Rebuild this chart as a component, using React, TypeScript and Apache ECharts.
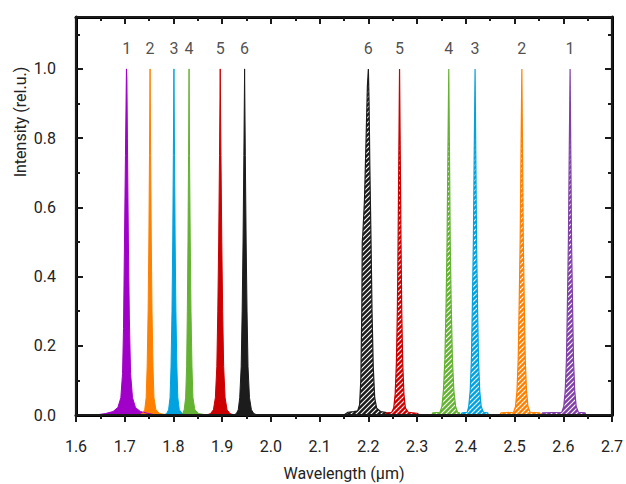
import React, { useEffect, useRef } from "react";
import * as echarts from "echarts";

// Peak labels
const peakLabelX = [1.704, 1.752, 1.801, 1.832, 1.896, 1.946, 2.2, 2.264, 2.365, 2.419, 2.515, 2.614];
const peakLabelText = ["1", "2", "3", "4", "5", "6", "6", "5", "4", "3", "2", "1"];
const peakLabelY = 1.058;

// Axis ranges and ticks
const xRange = [1.6, 2.7];
const yRange = [0, 1.15];
const xTicks = [1.6, 1.7, 1.8, 1.9, 2.0, 2.1, 2.2, 2.3, 2.4, 2.5, 2.6, 2.7];
const yTicks = [0.0, 0.2, 0.4, 0.6, 0.8, 1.0];

// Solid (left) peaks: [wavelength, intensity]
const left1 = [[1.640,0],[1.660,0.004],[1.676,0.01],[1.686,0.022],[1.692,0.05],[1.6955,0.12],[1.6975,0.25],[1.6995,0.5],[1.7015,0.75],[1.7035,1.0],[1.7045,0.97],[1.7055,0.8],[1.7075,0.5],[1.7095,0.28],[1.712,0.12],[1.716,0.05],[1.722,0.022],[1.732,0.01],[1.750,0.004],[1.765,0]];
const left2 = [[1.728,0],[1.736,0.004],[1.741,0.015],[1.744,0.05],[1.746,0.14],[1.748,0.3],[1.7495,0.5],[1.7508,0.75],[1.752,1.0],[1.7532,0.75],[1.7545,0.5],[1.756,0.3],[1.758,0.14],[1.760,0.05],[1.764,0.015],[1.772,0.004],[1.790,0]];
const left3 = [[1.780,0],[1.786,0.004],[1.790,0.015],[1.793,0.05],[1.795,0.14],[1.797,0.3],[1.7985,0.5],[1.7998,0.75],[1.801,1.0],[1.8022,0.75],[1.8035,0.5],[1.805,0.3],[1.807,0.14],[1.809,0.05],[1.812,0.015],[1.818,0.004],[1.826,0]];
const left4 = [[1.815,0],[1.819,0.004],[1.822,0.015],[1.825,0.05],[1.827,0.14],[1.8285,0.3],[1.8298,0.5],[1.831,0.75],[1.832,1.0],[1.833,0.75],[1.8345,0.5],[1.836,0.3],[1.838,0.14],[1.840,0.05],[1.844,0.015],[1.852,0.004],[1.870,0]];
const left5 = [[1.868,0],[1.876,0.004],[1.882,0.015],[1.886,0.05],[1.889,0.14],[1.891,0.3],[1.8928,0.5],[1.8945,0.75],[1.896,1.0],[1.8975,0.75],[1.8992,0.5],[1.901,0.3],[1.903,0.14],[1.906,0.05],[1.910,0.015],[1.916,0.004],[1.925,0]];
const left6 = [[1.924,0],[1.929,0.004],[1.933,0.015],[1.936,0.05],[1.939,0.14],[1.941,0.3],[1.9428,0.5],[1.9445,0.75],[1.946,1.0],[1.9475,0.75],[1.9492,0.5],[1.951,0.3],[1.953,0.14],[1.956,0.05],[1.960,0.015],[1.965,0.004],[1.972,0]];

// Hatched (right) peaks
const right6 = [[2.150,0],[2.158,0.008],[2.170,0.01],[2.178,0.012],[2.182,0.03],[2.1845,0.1],[2.1865,0.3],[2.1875,0.5],[2.1885,0.52],[2.192,0.62],[2.195,0.78],[2.198,0.95],[2.200,1.0],[2.2015,0.9],[2.203,0.72],[2.2055,0.5],[2.2075,0.3],[2.210,0.14],[2.213,0.05],[2.217,0.02],[2.225,0.01],[2.235,0.008],[2.245,0]];
const right5 = [[2.235,0],[2.238,0.006],[2.248,0.008],[2.252,0.02],[2.255,0.06],[2.2575,0.15],[2.2595,0.3],[2.261,0.5],[2.2625,0.75],[2.264,1.0],[2.2655,0.75],[2.267,0.5],[2.2685,0.3],[2.2705,0.15],[2.273,0.06],[2.276,0.02],[2.282,0.008],[2.300,0.005],[2.305,0]];
const right4 = [[2.330,0],[2.332,0.006],[2.347,0.008],[2.351,0.025],[2.354,0.07],[2.357,0.16],[2.3595,0.32],[2.3615,0.5],[2.3632,0.75],[2.365,1.0],[2.3665,0.75],[2.368,0.5],[2.370,0.32],[2.3725,0.16],[2.3755,0.07],[2.379,0.025],[2.383,0.008],[2.387,0.006],[2.388,0]];
const right3 = [[2.390,0],[2.392,0.006],[2.403,0.008],[2.406,0.025],[2.409,0.07],[2.4115,0.16],[2.4135,0.32],[2.4155,0.5],[2.4172,0.75],[2.419,1.0],[2.4205,0.75],[2.422,0.5],[2.424,0.32],[2.426,0.16],[2.4285,0.07],[2.4315,0.025],[2.436,0.008],[2.445,0.006],[2.446,0]];
const right2 = [[2.470,0],[2.472,0.006],[2.498,0.008],[2.502,0.025],[2.505,0.07],[2.5075,0.16],[2.5095,0.32],[2.5115,0.5],[2.5132,0.75],[2.515,1.0],[2.5165,0.75],[2.518,0.5],[2.520,0.32],[2.522,0.16],[2.5245,0.07],[2.5275,0.025],[2.532,0.008],[2.552,0.006],[2.553,0]];
const right1 = [[2.555,0],[2.557,0.006],[2.597,0.008],[2.601,0.025],[2.604,0.07],[2.6065,0.16],[2.6085,0.32],[2.6105,0.5],[2.6122,0.75],[2.614,1.0],[2.6155,0.75],[2.617,0.5],[2.619,0.32],[2.621,0.16],[2.6235,0.07],[2.6265,0.025],[2.631,0.008],[2.645,0.006],[2.646,0]];

const leftColors = ["#a000c8", "#ff8000", "#00a2e0", "#64b232", "#cc0000", "#1c1c1c"];
const rightColors = ["#1c1c1c", "#cc0000", "#64b232", "#00a2e0", "#ff8000", "#8040a8"];

function hatch(color: string) {
  const s = 5;
  const c = document.createElement("canvas");
  c.width = s;
  c.height = s;
  const ctx = c.getContext("2d")!;
  ctx.fillStyle = color;
  ctx.fillRect(0, 0, s, s);
  ctx.strokeStyle = "#ffffff";
  ctx.lineWidth = 1.1;
  ctx.beginPath();
  ctx.moveTo(-1, s + 1);
  ctx.lineTo(s + 1, -1);
  ctx.moveTo(-1, 1);
  ctx.lineTo(1, -1);
  ctx.moveTo(s - 1, s + 1);
  ctx.lineTo(s + 1, s - 1);
  ctx.stroke();
  return { image: c, repeat: "repeat" };
}

export default function App() {
  const ref = useRef<HTMLDivElement>(null);
  useEffect(() => {
    const chart = echarts.init(ref.current!, null, { renderer: "svg" });
    const font = "Roboto";
    const txt = "#222";
    const ink = "#000000";
    const leftData = [left1, left2, left3, left4, left5, left6];
    const rightData = [right6, right5, right4, right3, right2, right1];
    const series: any[] = [];
    leftData.forEach((d, i) => {
      series.push({
        type: "line",
        data: d,
        showSymbol: false,
        symbol: "none",
        lineStyle: { color: leftColors[i], width: 1 },
        areaStyle: { color: leftColors[i], opacity: 1 },
        z: 2,
      });
    });
    rightData.forEach((d, i) => {
      series.push({
        type: "line",
        data: d,
        showSymbol: false,
        symbol: "none",
        lineStyle: { color: rightColors[i], width: 1.2 },
        areaStyle: { color: hatch(rightColors[i]), opacity: 1 },
        z: 2,
      });
    });
    // plot frame, following the axis extents
    series.push({
      type: "line",
      data: [
        [xRange[0], yRange[0]],
        [xRange[1], yRange[0]],
        [xRange[1], yRange[1]],
        [xRange[0], yRange[1]],
        [xRange[0], yRange[0]],
      ],
      showSymbol: false,
      symbol: "none",
      clip: false,
      silent: true,
      lineStyle: { color: "#1a1a1a", width: 2.2 },
      z: 10,
    });
    series.push({
      type: "scatter",
      data: peakLabelX.map((x, i) => [x, peakLabelY, peakLabelText[i]]),
      symbolSize: 0,
      label: {
        show: true,
        position: "inside",
        formatter: (p: any) => p.value[2],
        fontFamily: font,
        fontSize: 16,
        color: txt,
      },
      z: 5,
    });
    const fmt = (v: number) => {
      const r = Math.round(v * 10) / 10;
      return xTicks.some((t) => Math.abs(t - r) < 1e-6) ? r.toFixed(1) : "";
    };
    const fmtY = (v: number) => {
      const r = Math.round(v * 10) / 10;
      return yTicks.some((t) => Math.abs(t - v) < 1e-6) ? r.toFixed(1) : "";
    };
    const mkLine = () => ({ show: true, onZero: false, lineStyle: { color: ink, width: 3 } });
    const noLine = () => ({ show: false, onZero: false });
    const tickMajor = (inside: boolean) => ({ show: true, inside, length: 7, lineStyle: { color: "#1a1a1a", width: 2 } });
    const tickMinor = () => ({ show: true, inside: true, length: 4, lineStyle: { color: "#1a1a1a", width: 2 } });
    const gridRect = () => ({ left: 76, right: 14, top: 17, bottom: 69, containLabel: false, outerBoundsMode: "none" });
    chart.setOption({
      animation: false,
      grid: [gridRect(), gridRect()],
      xAxis: [
        {
          gridIndex: 0,
          type: "value",
          min: xRange[0],
          max: xRange[1],
          interval: 0.1,
          position: "bottom",
          axisLine: mkLine(),
          axisTick: tickMajor(false),
          minorTick: { show: true, splitNumber: 2, length: 4, lineStyle: { color: "#1a1a1a", width: 2 } },
          axisLabel: { formatter: fmt, fontFamily: font, fontSize: 16, color: txt, margin: 23 },
          splitLine: { show: false },
          name: "Wavelength (µm)",
          nameLocation: "middle",
          nameGap: 50,
          nameTextStyle: { fontFamily: font, fontSize: 16, color: txt },
        },
        {
          gridIndex: 0,
          type: "value",
          min: xRange[0],
          max: xRange[1],
          interval: 0.1,
          position: "top",
          axisLine: mkLine(),
          axisTick: tickMajor(true),
          minorTick: { show: true, splitNumber: 2, length: 4, lineStyle: { color: "#1a1a1a", width: 2 } },
          axisLabel: { show: false },
          splitLine: { show: false },
        },
        {
          gridIndex: 1,
          type: "value",
          min: xRange[0],
          max: xRange[1],
          show: false,
        },
      ],
      yAxis: [
        {
          gridIndex: 0,
          type: "value",
          min: yRange[0],
          max: yRange[1],
          interval: 0.2,
          position: "left",
          axisLine: mkLine(),
          axisTick: tickMajor(true),
          axisLabel: { formatter: fmtY, fontFamily: font, fontSize: 16, color: txt, margin: 20, showMaxLabel: false },
          splitLine: { show: false },
        },
        {
          gridIndex: 0,
          type: "value",
          min: yRange[0],
          max: yRange[1],
          interval: 0.2,
          position: "right",
          axisLine: mkLine(),
          axisTick: tickMajor(true),
          axisLabel: { show: false },
          splitLine: { show: false },
        },
        {
          gridIndex: 1,
          type: "value",
          min: yRange[0],
          max: yRange[1],
          interval: 0.1,
          position: "left",
          axisLine: noLine(),
          axisTick: tickMinor(),
          axisLabel: { show: false },
          splitLine: { show: false },
        },
        {
          gridIndex: 1,
          type: "value",
          min: yRange[0],
          max: yRange[1],
          interval: 0.1,
          position: "right",
          axisLine: noLine(),
          axisTick: tickMinor(),
          axisLabel: { show: false },
          splitLine: { show: false },
        },
      ],
      graphic: [
        {
          type: "text",
          x: 20,
          y: 122,
          rotation: Math.PI / 2,
          style: {
            text: "Intensity (rel.u.)",
            fontFamily: font,
            fontSize: 16,
            fill: txt,
            align: "center",
            verticalAlign: "middle",
          },
        },
      ],
      series,
    });
    return () => chart.dispose();
  }, []);
  return <div ref={ref} style={{ width: 626, height: 484, position: "absolute", left: 0, top: 0 }} />;
}
